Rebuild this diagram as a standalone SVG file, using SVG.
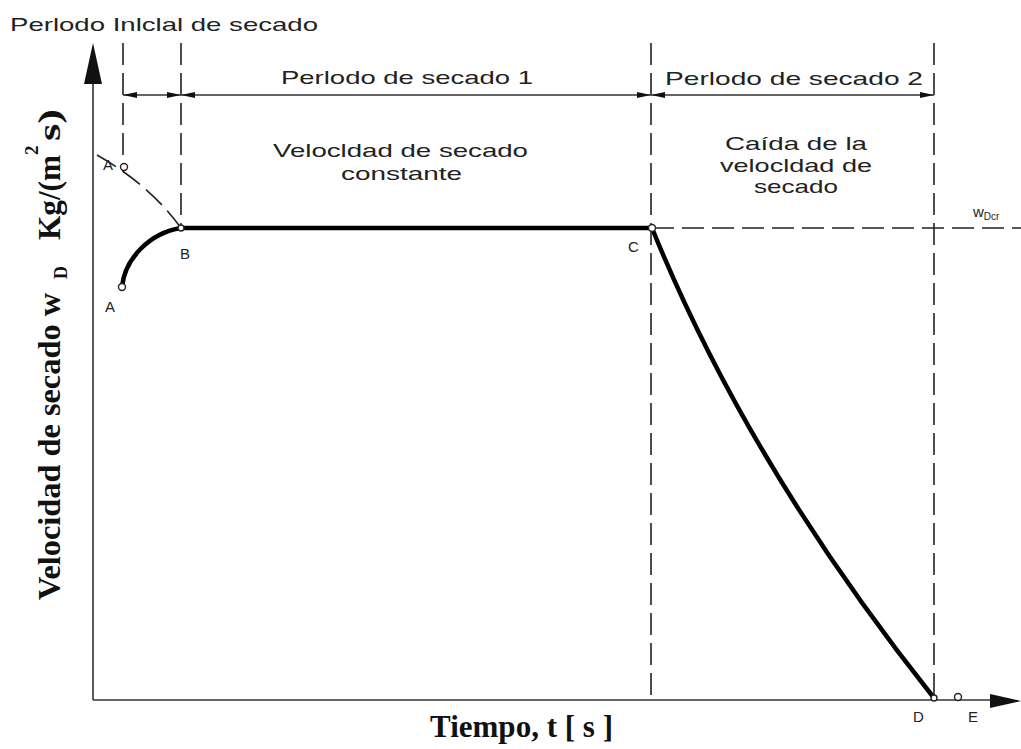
<svg xmlns="http://www.w3.org/2000/svg" width="1021" height="749" viewBox="0 0 1021 749">
<style>
.cad{font-family:"Liberation Sans","DejaVu Sans",sans-serif;font-size:19px;fill:#222;}
.lbl{font-family:"Liberation Sans","DejaVu Sans",sans-serif;font-size:15px;fill:#222;}
.ax{font-family:"Liberation Serif","DejaVu Serif",serif;font-weight:bold;fill:#111;}
.thin{stroke:#333;stroke-width:1.6;fill:none;}
.dash{stroke:#222;stroke-width:1.6;fill:none;stroke-dasharray:22 8;}
.thick{stroke:#000;stroke-width:4.5;fill:none;stroke-linecap:round;}
.pt{fill:#fff;stroke:#222;stroke-width:1.4;}
</style>
<defs>
<marker id="arr" viewBox="0 0 14 8" refX="14" refY="4" markerWidth="14" markerHeight="8" markerUnits="userSpaceOnUse" orient="auto-start-reverse">
<path d="M0,1 L14,4 L0,7 Z" fill="#111"/>
</marker>
</defs>
<rect width="1021" height="749" fill="#fff"/>

<g id="axes">
<line class="thin" x1="93" y1="700" x2="93" y2="80"/>
<polygon points="93,43 84,84 102,84" fill="#111"/>
<line class="thin" x1="93" y1="700" x2="992" y2="700"/>
<polygon points="1021,701 990,694 990,708" fill="#111"/>
</g>

<g id="guides">
<line class="dash" x1="123" y1="43" x2="123" y2="168"/>
<line class="dash" x1="181" y1="43" x2="181" y2="228"/>
<line class="dash" x1="651" y1="43" x2="651" y2="700"/>
<line class="dash" x1="934" y1="43" x2="934" y2="700"/>
<line class="dash" x1="652" y1="228" x2="1021" y2="228"/>
<path class="dash" d="M97,155 Q150,185 181,228" stroke-width="1.2" stroke-dasharray="12 6"/>
</g>

<g id="connectors">
<line class="thin" x1="123" y1="95" x2="181" y2="95" marker-start="url(#arr)" marker-end="url(#arr)"/>
<line class="thin" x1="181" y1="95" x2="651" y2="95" marker-start="url(#arr)" marker-end="url(#arr)"/>
<line class="thin" x1="651" y1="95" x2="934" y2="95" marker-start="url(#arr)" marker-end="url(#arr)"/>
</g>

<g id="curve">
<path class="thick" d="M122,287 C125,258 150,233 181,228"/>
<line class="thick" x1="181" y1="228" x2="652" y2="228"/>
<path class="thick" d="M652,228 Q747,463 934,698"/>
</g>

<g id="points">
<circle class="pt" cx="122" cy="287" r="3.5"/>
<circle class="pt" cx="124" cy="167" r="3.5"/>
<circle class="pt" cx="181" cy="228" r="3"/>
<circle class="pt" cx="652" cy="228" r="3.5"/>
<circle class="pt" cx="934" cy="698" r="3"/>
<circle class="pt" cx="958" cy="697" r="3.5"/>
</g>

<g id="labels">
<text class="cad" x="10" y="31" font-size="18" textLength="308" lengthAdjust="spacingAndGlyphs">Perlodo Inlclal de secado</text>
<text class="cad" x="281" y="84" textLength="252" lengthAdjust="spacingAndGlyphs">Perlodo de secado 1</text>
<text class="cad" x="665" y="85" textLength="258" lengthAdjust="spacingAndGlyphs">Perlodo de secado 2</text>
<text class="cad" x="273" y="157" textLength="255" lengthAdjust="spacingAndGlyphs">Velocldad de secado</text>
<text class="cad" x="341" y="180" textLength="121" lengthAdjust="spacingAndGlyphs">constante</text>
<text class="cad" x="725" y="150" font-size="20" textLength="142" lengthAdjust="spacingAndGlyphs">Caída de la</text>
<text class="cad" x="720" y="172" textLength="152" lengthAdjust="spacingAndGlyphs">velocldad de</text>
<text class="cad" x="754" y="193" textLength="84" lengthAdjust="spacingAndGlyphs">secado</text>
<text class="lbl" x="973" y="217" font-size="11">w<tspan font-size="10" dy="3">Dcr</tspan></text>
<text class="lbl" x="103" y="170">A</text>
<text class="lbl" x="180" y="259">B</text>
<text class="lbl" x="105" y="312">A</text>
<text class="lbl" x="628" y="252">C</text>
<text class="lbl" x="913" y="722" font-family="Liberation Serif">D</text>
<text class="lbl" x="968" y="722" font-family="Liberation Serif">E</text>
</g>

<g id="axis-titles">
<text class="ax" x="430" y="737" font-size="31" textLength="183" lengthAdjust="spacingAndGlyphs">Tiempo, t [ s ]</text>
<g transform="translate(60,600) rotate(-90)">
<text class="ax" x="0" y="0" font-size="32" textLength="307" lengthAdjust="spacingAndGlyphs">Velocidad de secado w</text>
<text class="ax" x="321" y="7" font-size="18">D</text>
<text class="ax" x="360" y="0" font-size="32" textLength="85" lengthAdjust="spacingAndGlyphs">Kg/(m</text>
<text class="ax" x="445" y="-22" font-size="19">2</text>
<text class="ax" x="459" y="0" font-size="32" textLength="32" lengthAdjust="spacingAndGlyphs">s)</text>
</g>
</g>
</svg>
